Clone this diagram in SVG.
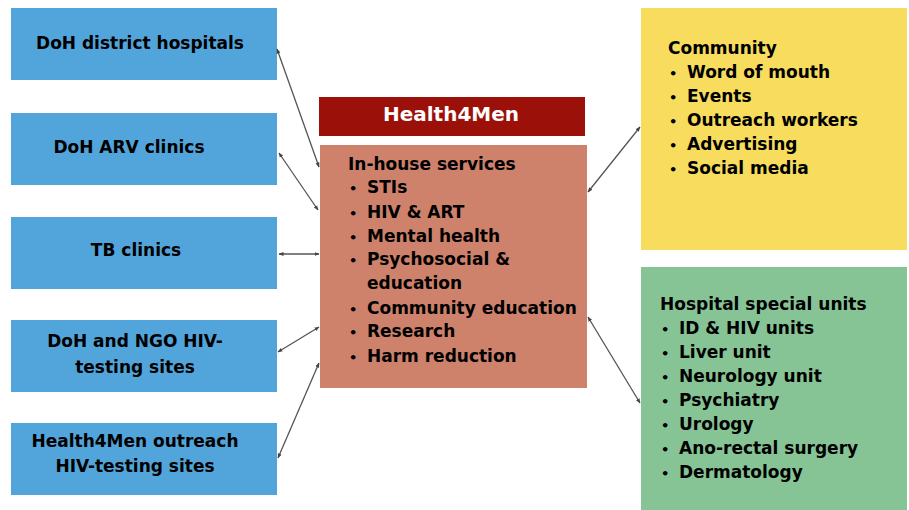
<svg xmlns="http://www.w3.org/2000/svg" width="909" height="510" viewBox="0 0 909 510">
<style>
.t{font-family:"DejaVu Sans","Liberation Sans",sans-serif;font-weight:bold;font-size:17px;fill:#000}
.c{text-anchor:middle}
.b{font-size:13px}
.blue{fill:#52A5DA}
.conn{stroke:#555;stroke-width:1.3;fill:none;marker-start:url(#ah);marker-end:url(#ah)}
</style>
<defs>
<marker id="ah" viewBox="0 0 10 10" refX="9" refY="5" markerWidth="5" markerHeight="5" orient="auto-start-reverse" markerUnits="userSpaceOnUse">
<path d="M0,1 L10,5 L0,9 z" fill="#444"/>
</marker>
</defs>
<rect width="909" height="510" fill="#fff"/>
<g id="n-doh-hospitals">
<rect class="blue" x="11" y="8" width="266" height="72"/>
<text class="t c" x="140" y="49">DoH district hospitals</text>
</g>
<g id="n-doh-arv">
<rect class="blue" x="11" y="113" width="266" height="72"/>
<text class="t c" x="129" y="153">DoH ARV clinics</text>
</g>
<g id="n-tb">
<rect class="blue" x="11" y="217" width="266" height="72"/>
<text class="t c" x="136" y="256">TB clinics</text>
</g>
<g id="n-doh-ngo">
<rect class="blue" x="11" y="320" width="266" height="72"/>
<text class="t c" x="135" y="347">DoH and NGO HIV-</text>
<text class="t c" x="135" y="373">testing sites</text>
</g>
<g id="n-h4m-outreach">
<rect class="blue" x="11" y="423" width="266" height="72"/>
<text class="t c" x="135" y="447">Health4Men outreach</text>
<text class="t c" x="135" y="472">HIV-testing sites</text>
</g>
<g id="n-health4men">
<rect x="319" y="97" width="266" height="39" fill="#9B1008"/>
<text class="t c" x="451" y="121" style="fill:#fff;font-size:20px">Health4Men</text>
</g>
<g id="n-inhouse">
<rect x="320" y="145" width="267" height="243" fill="#CE816B"/>
<text class="t" x="348" y="170">In-house services</text>
<text class="t" y="193"><tspan class="b" x="349">•</tspan><tspan x="367">STIs</tspan></text>
<text class="t" y="218"><tspan class="b" x="349">•</tspan><tspan x="367">HIV &amp; ART</tspan></text>
<text class="t" y="242"><tspan class="b" x="349">•</tspan><tspan x="367">Mental health</tspan></text>
<text class="t" y="265"><tspan class="b" x="349">•</tspan><tspan x="367">Psychosocial &amp;</tspan></text>
<text class="t" x="367" y="289">education</text>
<text class="t" y="314"><tspan class="b" x="349">•</tspan><tspan x="367">Community education</tspan></text>
<text class="t" y="337"><tspan class="b" x="349">•</tspan><tspan x="367">Research</tspan></text>
<text class="t" y="362"><tspan class="b" x="349">•</tspan><tspan x="367">Harm reduction</tspan></text>
</g>
<g id="n-community">
<rect x="641" y="8" width="266" height="242" fill="#F7DC5D"/>
<text class="t" x="668" y="54">Community</text>
<text class="t" y="78"><tspan class="b" x="669">•</tspan><tspan x="687">Word of mouth</tspan></text>
<text class="t" y="102"><tspan class="b" x="669">•</tspan><tspan x="687">Events</tspan></text>
<text class="t" y="126"><tspan class="b" x="669">•</tspan><tspan x="687">Outreach workers</tspan></text>
<text class="t" y="150"><tspan class="b" x="669">•</tspan><tspan x="687">Advertising</tspan></text>
<text class="t" y="174"><tspan class="b" x="669">•</tspan><tspan x="687">Social media</tspan></text>
</g>
<g id="n-hospital-units">
<rect x="641" y="267" width="266" height="243" fill="#86C496"/>
<text class="t" x="660" y="310">Hospital special units</text>
<text class="t" y="334"><tspan class="b" x="661">•</tspan><tspan x="679">ID &amp; HIV units</tspan></text>
<text class="t" y="358"><tspan class="b" x="661">•</tspan><tspan x="679">Liver unit</tspan></text>
<text class="t" y="382"><tspan class="b" x="661">•</tspan><tspan x="679">Neurology unit</tspan></text>
<text class="t" y="406"><tspan class="b" x="661">•</tspan><tspan x="679">Psychiatry</tspan></text>
<text class="t" y="430"><tspan class="b" x="661">•</tspan><tspan x="679">Urology</tspan></text>
<text class="t" y="454"><tspan class="b" x="661">•</tspan><tspan x="679">Ano-rectal surgery</tspan></text>
<text class="t" y="478"><tspan class="b" x="661">•</tspan><tspan x="679">Dermatology</tspan></text>
</g>
<g id="connectors">
<line class="conn" x1="277" y1="49" x2="319" y2="167"/>
<line class="conn" x1="279" y1="153" x2="318" y2="210"/>
<line class="conn" x1="279" y1="254" x2="319" y2="254"/>
<line class="conn" x1="278" y1="352" x2="319" y2="327"/>
<line class="conn" x1="278" y1="458" x2="319" y2="363"/>
<line class="conn" x1="588" y1="192" x2="640" y2="127"/>
<line class="conn" x1="588" y1="317" x2="640" y2="403"/>
</g>
</svg>
